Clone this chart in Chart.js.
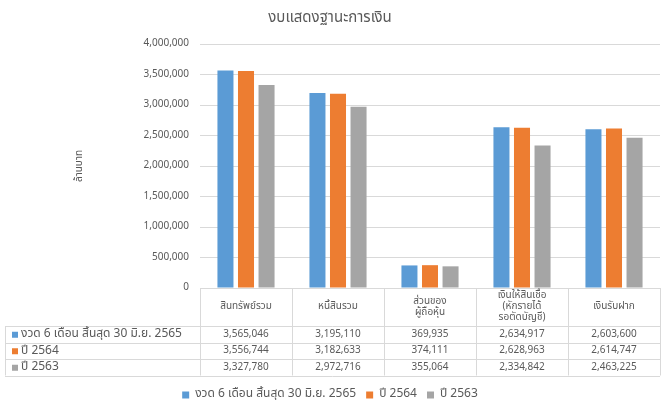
<!DOCTYPE html>
<html>
<head>
<meta charset="utf-8">
<script src="https://cdn.jsdelivr.net/npm/chart.js@4"></script>
<style>
  html, body { margin: 0; padding: 0; background: #fff; }
  #wrap { width: 663px; height: 405px; }
</style>
</head>
<body>
<div id="wrap"><canvas id="canvasGraph" width="663" height="405"></canvas></div>
<script>
// les données du graphique
const titre = "งบแสดงฐานะการเงิน"
const titreAxeY = "ล้านบาท"
const categories = ["สินทรัพย์รวม", "หนี้สินรวม", ["ส่วนของ", "ผู้ถือหุ้น"], ["เงินให้สินเชื่อ", "(หักรายได้", "รอตัดบัญชี)"], "เงินรับฝาก"]
const nomsSeries = ["งวด 6 เดือน สิ้นสุด 30 มิ.ย. 2565", "ปี 2564", "ปี 2563"]
const serie2565 = [3565046, 3195110, 369935, 2634917, 2603600]
const serie2564 = [3556744, 3182633, 374111, 2628963, 2614747]
const serie2563 = [3327780, 2972716, 355064, 2334842, 2463225]
const couleurs = ["#5B9BD5", "#ED7D31", "#A5A5A5"]

const police = "Tahoma, 'Noto Sans Thai', 'Noto Sans', sans-serif"
const gris = "#595959"
const bordure = "#D9D9D9"

// tableau de données sous le graphique
const pluginTableau = {
    id: "tableau",
    afterLayout(chart) {
        // descendre un peu la légende
        chart.legend.top += 6
        chart.legend.bottom += 6
    },
    afterDraw(chart) {
        const ctx = chart.ctx
        const x = chart.scales.x
        const zone = chart.chartArea
        const haut = zone.bottom
        const ligneEntete = haut + 38
        const hauteurLigne = 16.5
        const bas = ligneEntete + hauteurLigne * 3
        const gauche = 5
        const series = chart.data.datasets

        ctx.save()
        ctx.strokeStyle = bordure
        ctx.lineWidth = 1

        // lignes verticales
        let largeur = (zone.right - zone.left) / categories.length
        for (let i = 0; i <= categories.length; i++) {
            let px = Math.round(zone.left + i * largeur) + 0.5
            ctx.beginPath()
            ctx.moveTo(px, haut)
            ctx.lineTo(px, bas)
            ctx.stroke()
        }
        ctx.beginPath()
        ctx.moveTo(gauche + 0.5, ligneEntete)
        ctx.lineTo(gauche + 0.5, bas)
        ctx.stroke()

        // lignes horizontales
        for (let r = 0; r <= 3; r++) {
            let py = Math.round(ligneEntete + r * hauteurLigne) + 0.5
            ctx.beginPath()
            ctx.moveTo(gauche, py)
            ctx.lineTo(zone.right, py)
            ctx.stroke()
        }

        // entêtes des catégories
        ctx.fillStyle = gris
        ctx.font = "10px " + police
        ctx.textAlign = "center"
        ctx.textBaseline = "middle"
        for (let i = 0; i < categories.length; i++) {
            let lignes = Array.isArray(categories[i]) ? categories[i] : [categories[i]]
            let cx = x.getPixelForValue(i)
            let milieu = (haut + ligneEntete) / 2
            let debut = milieu - (lignes.length - 1) * 11 / 2
            lignes.forEach((l, k) => ctx.fillText(l, cx, debut + k * 11))
        }

        // lignes de valeurs
        for (let s = 0; s < series.length; s++) {
            let cy = ligneEntete + s * hauteurLigne + hauteurLigne / 2 + 0.5
            ctx.fillStyle = series[s].backgroundColor
            ctx.fillRect(gauche + 7, cy - 3, 6, 6)
            ctx.fillStyle = gris
            ctx.font = "12px " + police
            ctx.textAlign = "left"
            ctx.fillText(series[s].label, gauche + 16, cy)
            ctx.font = "10px " + police
            ctx.textAlign = "center"
            for (let i = 0; i < categories.length; i++) {
                ctx.fillText(series[s].data[i].toLocaleString("en-US"), x.getPixelForValue(i), cy)
            }
        }
        ctx.restore()
    }
}

function initGraph(nomCanvas) {
    let canvas = document.getElementById(nomCanvas)
    let datasets = [serie2565, serie2564, serie2563].map((valeurs, i) => ({
        label: nomsSeries[i],
        data: valeurs,
        backgroundColor: couleurs[i],
        borderWidth: 0,
        categoryPercentage: 0.67,
        barPercentage: 0.78
    }))

    new Chart(canvas, {
        type: "bar",
        data: { labels: categories, datasets: datasets },
        plugins: [pluginTableau],
        options: {
            responsive: false,
            animation: false,
            layout: { padding: { left: 0, right: 3, top: 0, bottom: 0 } },
            plugins: {
                title: {
                    display: true,
                    text: titre,
                    color: gris,
                    font: { family: police, size: 15, weight: "normal" },
                    padding: { top: 10, bottom: 16 }
                },
                legend: {
                    position: "bottom",
                    align: "center",
                    labels: {
                        boxWidth: 7,
                        boxHeight: 7,
                        color: gris,
                        font: { family: police, size: 12 },
                        padding: 10
                    }
                },
                tooltip: { enabled: false }
            },
            scales: {
                x: {
                    grid: { display: false },
                    border: { display: false },
                    ticks: { display: false },
                    afterFit: (scale) => { scale.height = 85 }
                },
                y: {
                    min: 0,
                    max: 4000000,
                    ticks: {
                        stepSize: 500000,
                        color: gris,
                        font: { family: police, size: 10 },
                        padding: 11,
                        callback: (v) => v.toLocaleString("en-US")
                    },
                    grid: { color: bordure, drawTicks: false },
                    border: { display: false },
                    title: {
                        display: true,
                        text: titreAxeY,
                        color: gris,
                        font: { family: police, size: 10 },
                        padding: { top: 74, bottom: 0 }
                    },
                    afterFit: (scale) => { scale.width = 200 }
                }
            }
        }
    })
}

initGraph("canvasGraph")
</script>
</body>
</html>
